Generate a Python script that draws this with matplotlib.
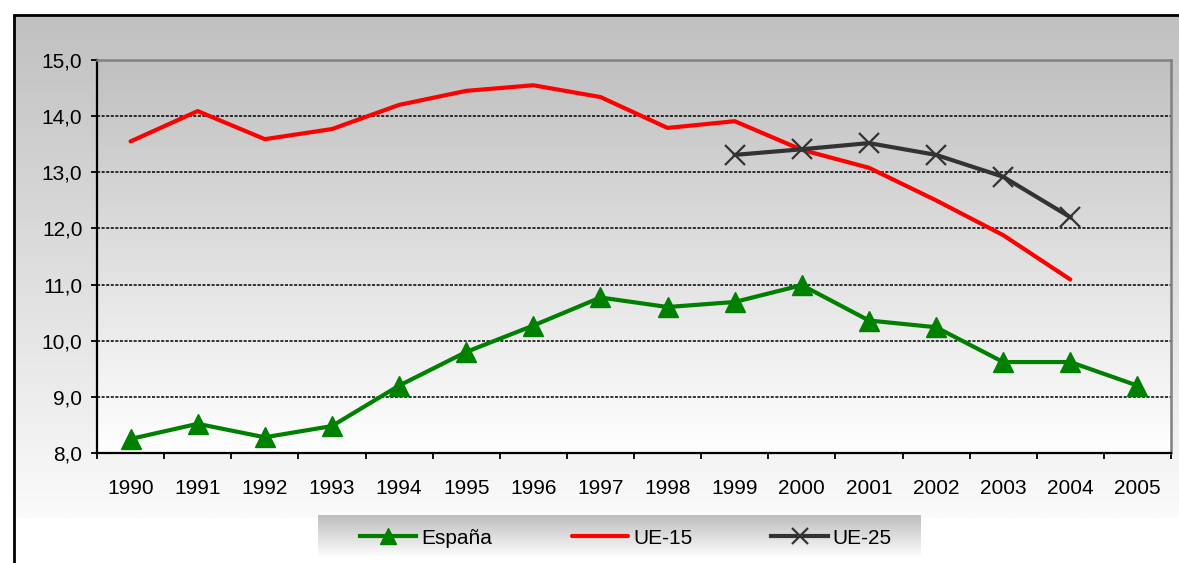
import numpy as np
import matplotlib
matplotlib.use("Agg")
import matplotlib.pyplot as plt
from matplotlib.ticker import FixedLocator, FuncFormatter

plt.rcParams['font.family'] = ['Liberation Sans', 'DejaVu Sans']

years = [str(y) for y in range(1990, 2006)]
espana = [8.25, 8.52, 8.28, 8.48, 9.20, 9.80, 10.27, 10.77, 10.60, 10.69,
          10.99, 10.36, 10.24, 9.62, 9.62, 9.20]
ue15 = [13.55, 14.09, 13.59, 13.77, 14.20, 14.45, 14.55, 14.34, 13.79, 13.91,
        13.40, 13.08, 12.50, 11.88, 11.09]
ue25_years = ['1999', '2000', '2001', '2002', '2003', '2004']
ue25 = [13.31, 13.41, 13.52, 13.31, 12.92, 12.20]
yticks = [8.0, 9.0, 10.0, 11.0, 12.0, 13.0, 14.0, 15.0]

W, H = 1179, 563
fig = plt.figure(figsize=(W / 100, H / 100), dpi=100)
fig.patch.set_facecolor('white')

# background layer in pixel coordinates
bg = fig.add_axes([0, 0, 1, 1], zorder=0)
bg.set_xlim(0, W)
bg.set_ylim(H, 0)
bg.axis('off')

grad = np.linspace(0, 1, 256).reshape(-1, 1)
gray_cmap = matplotlib.colors.LinearSegmentedColormap.from_list(
    'g', ['#c0c0c0', '#fbfbfb'])
bg.imshow(grad, cmap=gray_cmap, extent=(14, W, 518, 15), aspect='auto',
          interpolation='bilinear', zorder=0)
legend_cmap = matplotlib.colors.LinearSegmentedColormap.from_list(
    'lg', ['#bdbdbd', '#ffffff'])
bg.imshow(grad, cmap=legend_cmap, extent=(318, 921, 558, 515), aspect='auto',
          interpolation='bilinear', zorder=1)
bg.plot([13.5, 13.5], [14, H], color='black', lw=2, solid_capstyle='butt')
bg.plot([13, W], [14.5, 14.5], color='black', lw=2, solid_capstyle='butt')

# plot area
left, right, top, bottom = 97, 1171, 60, 453
ax = fig.add_axes([left / W, (H - bottom) / H, (right - left) / W,
                   (bottom - top) / H], zorder=1)
ax.set_facecolor('none')
x = np.arange(len(years))
ax.set_xlim(-0.5, len(years) - 0.5)
ax.set_ylim(8.0, 15.0)

plot_cmap = matplotlib.colors.LinearSegmentedColormap.from_list(
    'p', ['#c0c0c0', '#ffffff'])
ax.imshow(grad, cmap=plot_cmap, extent=(-0.5, len(years) - 0.5, 8.0, 15.0),
          aspect='auto', interpolation='bilinear', zorder=0)

for yv in yticks[1:-1]:
    ax.axhline(yv, color='black', lw=1.1, ls=(0, (2, 1)), zorder=1)

ax.plot(x[:len(ue15)], ue15, color='#ff0000', lw=3, zorder=3,
        solid_capstyle='round', solid_joinstyle='round', label='UE-15')
x25 = [years.index(y) for y in ue25_years]
ax.plot(x25, ue25, color='#333333', lw=3, marker='x', ms=15, mew=1.6,
        zorder=4, label='UE-25')
ax.plot(x, espana, color='#008000', lw=3, marker='^', ms=15, zorder=5,
        label='España')

for s in ['left', 'bottom']:
    ax.spines[s].set_color('black')
    ax.spines[s].set_linewidth(1.6)
for s in ['top', 'right']:
    ax.spines[s].set_color('#808080')
    ax.spines[s].set_linewidth(1.8)

ax.xaxis.set_major_locator(FixedLocator(np.arange(-0.5, len(years), 1.0)))
ax.xaxis.set_minor_locator(FixedLocator(x))
ax.set_xticklabels([], minor=False)
ax.set_xticklabels(years, minor=True)
ax.tick_params(axis='x', which='major', direction='out', length=4.5,
               width=1.3, color='black')
ax.tick_params(axis='x', which='minor', length=0, pad=19, labelsize=15)

ax.set_yticks(yticks)
ax.yaxis.set_major_formatter(FuncFormatter(lambda v, p: f"{v:.1f}".replace('.', ',')))
ax.tick_params(axis='y', direction='out', length=4.5, width=1.3, pad=6,
               labelsize=15, color='black')

handles, labels = ax.get_legend_handles_labels()
order = [labels.index(n) for n in ['España', 'UE-15', 'UE-25']]
leg = fig.legend([handles[i] for i in order], [labels[i] for i in order],
                 loc='center', bbox_to_anchor=(626 / W, (H - 538) / H),
                 ncol=3, frameon=False, fontsize=15, handlelength=2.7,
                 handletextpad=0.25, columnspacing=3.8, markerscale=0.75)
leg.set_zorder(3)

fig.savefig('out.png', dpi=100, facecolor='white')
